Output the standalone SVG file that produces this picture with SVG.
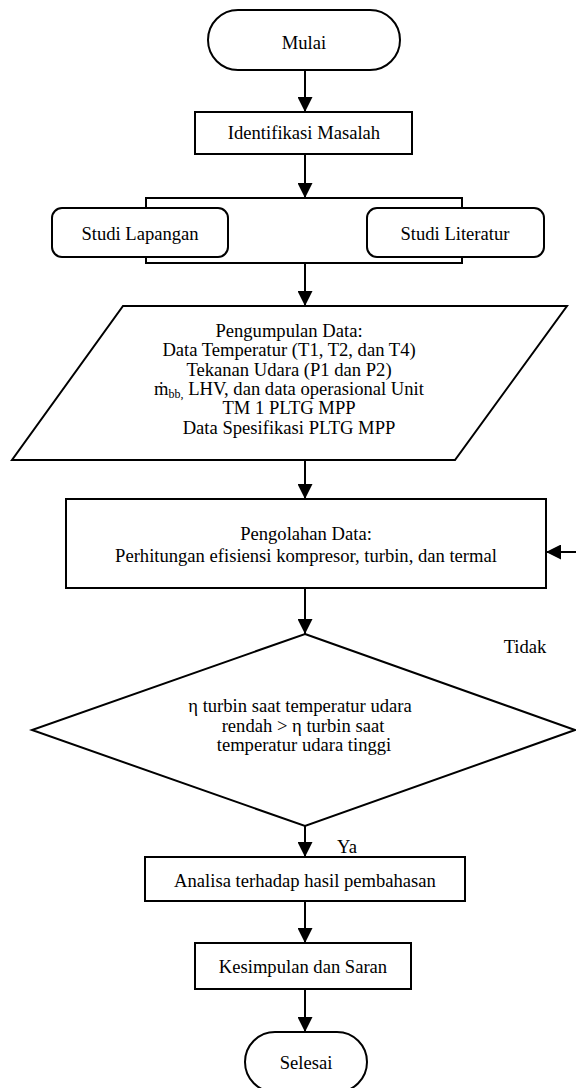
<svg xmlns="http://www.w3.org/2000/svg" width="576" height="1088" viewBox="0 0 576 1088">
<style>
.s{fill:#fff;stroke:#000;stroke-width:2}
.t{font-family:"Liberation Serif","Times New Roman",serif;font-size:18.6px;fill:#000;text-anchor:middle}
.c{fill:none;stroke:#000;stroke-width:2}
</style>
<defs>
<marker id="ah" markerUnits="userSpaceOnUse" markerWidth="15" markerHeight="15" refX="15" refY="7.5" orient="auto">
<path d="M0,0 L15,7.5 L0,15 z" fill="#000"/>
</marker>
</defs>
<g id="connectors">
<line class="c" x1="305" y1="70" x2="305" y2="112" marker-end="url(#ah)"/>
<line class="c" x1="305" y1="154" x2="305" y2="198" marker-end="url(#ah)"/>
<line class="c" x1="305" y1="263" x2="305" y2="306" marker-end="url(#ah)"/>
<line class="c" x1="305" y1="460" x2="305" y2="499" marker-end="url(#ah)"/>
<line class="c" x1="305" y1="588" x2="305" y2="634" marker-end="url(#ah)"/>
<line class="c" x1="305" y1="826" x2="305" y2="857" marker-end="url(#ah)"/>
<line class="c" x1="305" y1="901" x2="305" y2="943" marker-end="url(#ah)"/>
<line class="c" x1="305" y1="989" x2="305" y2="1032" marker-end="url(#ah)"/>
<line class="c" x1="580" y1="552" x2="546" y2="552" marker-end="url(#ah)"/>
<text class="t" x="525" y="653">Tidak</text>
<text class="t" x="347" y="853">Ya</text>
</g>
<g id="mulai">
<rect class="s" x="208" y="10" width="192" height="60" rx="30"/>
<text class="t" x="304" y="49">Mulai</text>
</g>
<g id="identifikasi">
<rect class="s" x="195" y="112" width="217" height="42"/>
<text class="t" x="304" y="139">Identifikasi Masalah</text>
</g>
<g id="studi">
<rect class="s" x="146" y="198" width="316" height="65"/>
<g id="studi-lapangan">
<rect class="s" x="52" y="208" width="176" height="49" rx="10"/>
<text class="t" x="140" y="240">Studi Lapangan</text>
</g>
<g id="studi-literatur">
<rect class="s" x="367" y="208" width="177" height="49" rx="10"/>
<text class="t" x="455" y="240">Studi Literatur</text>
</g>
</g>
<g id="pengumpulan">
<polygon class="s" points="123,306 567,306 455,460 12,460"/>
<text class="t" x="289" y="337">Pengumpulan Data:</text>
<text class="t" x="289" y="356">Data Temperatur (T1, T2, dan T4)</text>
<text class="t" x="289" y="376">Tekanan Udara (P1 dan P2)</text>
<text class="t" x="289" y="395">ṁ<tspan font-size="12" dy="3">bb,</tspan><tspan dy="-3"> LHV, dan data operasional Unit</tspan></text>
<text class="t" x="289" y="414">TM 1 PLTG MPP</text>
<text class="t" x="289" y="434">Data Spesifikasi PLTG MPP</text>
</g>
<g id="pengolahan">
<rect class="s" x="66" y="499" width="480" height="89"/>
<text class="t" x="306" y="540">Pengolahan Data:</text>
<text class="t" x="306" y="562">Perhitungan efisiensi kompresor, turbin, dan termal</text>
</g>
<g id="keputusan">
<polygon class="s" points="305,634 575,730 305,826 32,730"/>
<text class="t" x="300" y="712">η turbin saat temperatur udara</text>
<text class="t" x="303" y="732">rendah &gt; η turbin saat</text>
<text class="t" x="304" y="751">temperatur udara tinggi</text>
</g>
<g id="analisa">
<rect class="s" x="145" y="857" width="320" height="44"/>
<text class="t" x="305" y="887">Analisa terhadap hasil pembahasan</text>
</g>
<g id="kesimpulan">
<rect class="s" x="195" y="943" width="216" height="46"/>
<text class="t" x="303" y="973">Kesimpulan dan Saran</text>
</g>
<g id="selesai">
<rect class="s" x="245" y="1032" width="122" height="60" rx="30"/>
<text class="t" x="306" y="1069">Selesai</text>
</g>
</svg>
